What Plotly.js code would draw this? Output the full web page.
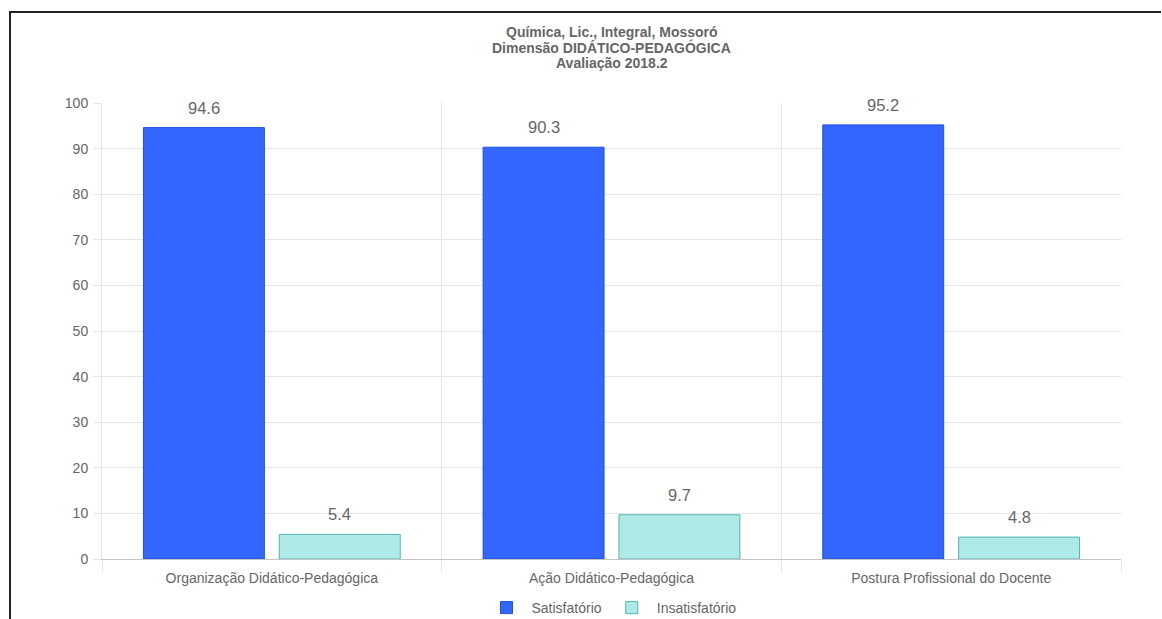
<!DOCTYPE html>
<html>
<head>
<meta charset="utf-8">
<script src="https://cdn.plot.ly/plotly-3.0.1.min.js"></script>
<style>
html,body{margin:0;padding:0;background:#fff;overflow:hidden;}
#wrap{position:relative;width:1162px;height:619px;overflow:hidden;}
#chart{position:absolute;left:0;top:0;width:1162px;height:624px;}
#frame{position:absolute;left:9px;top:11px;width:1150px;height:620px;border-top:2px solid #222;border-left:2px solid #222;pointer-events:none;}
</style>
</head>
<body>
<div id="wrap"><div id="chart"></div><div id="frame"></div></div>
<script>
const categories = ["Organização Didático-Pedagógica", "Ação Didático-Pedagógica", "Postura Profissional do Docente"];
const satisfatorio = [94.6, 90.3, 95.2];
const insatisfatorio = [5.4, 9.7, 4.8];
const seriesNames = ["Satisfatório", "Insatisfatório"];
const titleLines = ["Química, Lic., Integral, Mossoró", "Dimensão DIDÁTICO-PEDAGÓGICA", "Avaliação 2018.2"];
const yTicks = [0, 10, 20, 30, 40, 50, 60, 70, 80, 90, 100];

const FONT = "Liberation Sans, Arial, sans-serif";
const GREY = "#666";

const traces = [
  {type: "bar", name: seriesNames[0], x: categories, y: satisfatorio,
   marker: {color: "#3366ff", line: {color: "#1f4fe0", width: 1}}, hoverinfo: "y"},
  {type: "bar", name: seriesNames[1], x: categories, y: insatisfatorio,
   marker: {color: "#aeeae8", line: {color: "#55b3ad", width: 1}}, hoverinfo: "y"}
];

const annotations = [];
const groupShift = 68;
[satisfatorio, insatisfatorio].forEach((arr, si) => {
  arr.forEach((v, i) => {
    annotations.push({x: categories[i], y: v, xref: "x", yref: "y", text: String(v),
      showarrow: false, yanchor: "bottom", yshift: 9, xshift: si === 0 ? -groupShift : groupShift,
      font: {family: FONT, size: 16.5, color: GREY}});
  });
});

const titleY = [1.1557, 1.1228, 1.0877];
titleLines.forEach((t, i) => {
  annotations.push({x: 0.5, y: titleY[i], xref: "paper", yref: "paper", text: "<b>" + t + "</b>",
    showarrow: false, xanchor: "center", yanchor: "middle",
    font: {family: FONT, size: 14, color: GREY}});
});

const layout = {
  width: 1162, height: 624,
  margin: {l: 102, r: 41, t: 103, b: 65},
  paper_bgcolor: "#fff", plot_bgcolor: "#fff",
  font: {family: FONT, size: 14, color: GREY},
  barmode: "group", bargap: 0.2, bargroupgap: 0.11,
  xaxis: {type: "category", tickson: "boundaries", showgrid: true, gridcolor: "#e6e6e6",
          ticks: "outside", ticklen: 12, tickcolor: "#e6e6e6", showline: true, linecolor: "#c4c4c4",
          ticklabelstandoff: 6, automargin: false,
          tickfont: {family: FONT, size: 14, color: GREY}, fixedrange: true},
  yaxis: {range: [0, 100], tickvals: yTicks, showgrid: true, gridcolor: "#e6e6e6",
          ticks: "outside", ticklen: 8, tickcolor: "#e6e6e6", showline: true, linecolor: "#e6e6e6",
          zeroline: false, automargin: false, ticklabelstandoff: 2,
          tickfont: {family: FONT, size: 14, color: GREY}, fixedrange: true},
  showlegend: true,
  legend: {orientation: "h", x: 0.5, xref: "paper", xanchor: "center", y: 0, yref: "container", yanchor: "bottom",
           font: {family: FONT, size: 14, color: GREY}, itemwidth: 40},
  annotations: annotations
};

Plotly.newPlot("chart", traces, layout, {displayModeBar: false, staticPlot: true});
</script>
</body>
</html>
